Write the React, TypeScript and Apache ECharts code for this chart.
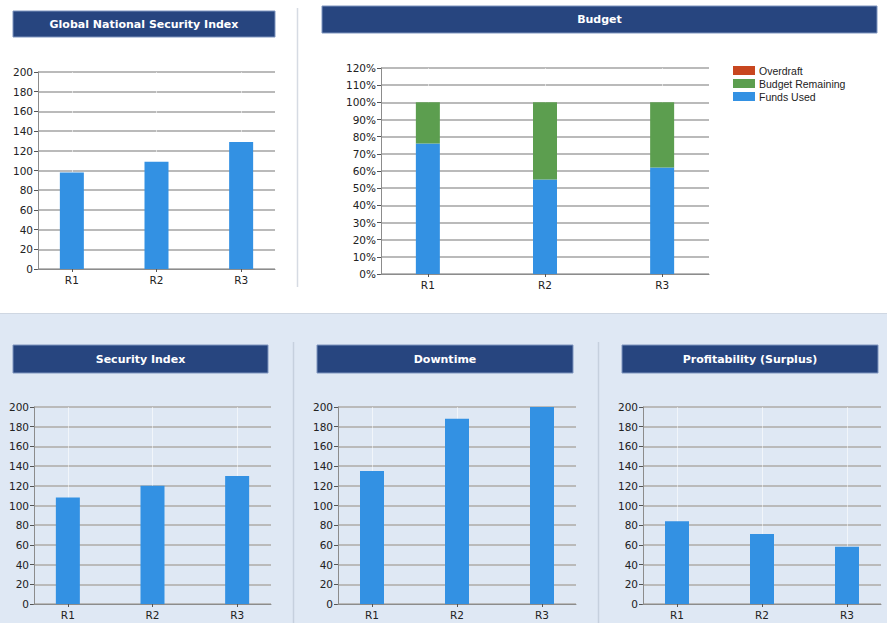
import React, { useEffect, useRef } from "react";
import * as echarts from "echarts";

const categories = ["R1", "R2", "R3"];
const catIndex = [0, 1, 2];
const globalSecurityIndex = [98, 109, 129];
const fundsUsed = [76, 55, 62];
const budgetRemaining = [24, 45, 38];
const overdraft = [0, 0, 0];
const securityIndex = [108, 120, 130];
const downtime = [135, 188, 200];
const profitability = [84, 71, 58];
const legendNames = ["Overdraft", "Budget Remaining", "Funds Used"];

const FONT = "DejaVu Sans";
const BAR_BLUE = "#3391e3";
const TITLE_BG = "#27457f";

const pairs = (vals: number[]) => catIndex.map((x, i) => [x, vals[i]]);
// value first, category position second (so the value dimension is the stacked one)
const stackPairs = (vals: number[]) => catIndex.map((x, i) => [vals[i], x]);

function xAxisFor(gridIndex: number) {
  return {
    type: "value",
    gridIndex,
    min: -0.4,
    max: 2.4,
    z: 1,
    axisLine: { show: true, onZero: false, lineStyle: { color: "#8c8c8c", width: 1 } },
    axisTick: { show: true, customValues: catIndex, length: 3, lineStyle: { color: "#555" } },
    axisLabel: {
      customValues: catIndex,
      formatter: (v: number) => categories[Math.round(v)] ?? "",
      fontFamily: FONT,
      fontSize: 10.5,
      color: "#222",
      margin: 5,
    },
    splitLine: { show: true, lineStyle: { color: "rgba(255,255,255,0.55)", width: 1 } },
  };
}

function yAxisFor(gridIndex: number, max: number, interval: number, pct = false) {
  return {
    type: "value",
    gridIndex,
    min: 0,
    max,
    interval,
    axisLine: { show: true, onZero: false, lineStyle: { color: "#8c8c8c", width: 1 } },
    axisTick: { show: true, length: 4, lineStyle: { color: "#555" } },
    axisLabel: {
      formatter: pct ? "{value}%" : "{value}",
      fontFamily: FONT,
      fontSize: 10.5,
      color: "#222",
      margin: 5,
    },
    splitLine: { show: true, lineStyle: { color: "#bababa", width: 2 } },
  };
}

function titleBox(x: number, y: number, w: number, h: number, text: string) {
  return {
    type: "group",
    children: [
      {
        type: "rect",
        shape: { x, y, width: w, height: h },
        style: { fill: TITLE_BG, stroke: "#7f95bf", lineWidth: 1 },
      },
      {
        type: "text",
        x: x + w / 2,
        y: y + h / 2,
        style: {
          text,
          fill: "#ffffff",
          font: `bold 11px "${FONT}"`,
          align: "center",
          verticalAlign: "middle",
        },
      },
    ],
  };
}

export default function App() {
  const ref = useRef<HTMLDivElement>(null);

  useEffect(() => {
    if (!ref.current) return;
    const chart = echarts.init(ref.current, undefined, { renderer: "svg" });

    const barSeries = (idx: number, data: number[], name: string) => ({
      type: "bar",
      name,
      xAxisIndex: idx,
      yAxisIndex: idx,
      data: pairs(data),
      barWidth: 24,
      itemStyle: { color: BAR_BLUE },
    });

    const budgetSeries = (name: string, data: number[], color: string) => ({
      type: "bar",
      name,
      xAxisIndex: 1,
      yAxisIndex: 1,
      stack: "budget",
      encode: { x: 1, y: 0 },
      data: stackPairs(data),
      barWidth: 24,
      itemStyle: { color },
    });

    chart.setOption({
      animation: false,
      backgroundColor: "transparent",
      graphic: [
        { type: "rect", z: -10, shape: { x: 0, y: 0, width: 887, height: 313 }, style: { fill: "#ffffff" } },
        { type: "rect", z: -10, shape: { x: 0, y: 314, width: 887, height: 309 }, style: { fill: "#dfe8f4" } },
        { type: "line", z: -9, shape: { x1: 0, y1: 313.5, x2: 887, y2: 313.5 }, style: { stroke: "#cfd7e2", lineWidth: 1 } },
        { type: "line", z: -9, shape: { x1: 297.5, y1: 8, x2: 297.5, y2: 287 }, style: { stroke: "#d6dbe3", lineWidth: 1.5 } },
        { type: "line", z: -9, shape: { x1: 293.5, y1: 342, x2: 293.5, y2: 623 }, style: { stroke: "#c6d0de", lineWidth: 1.5 } },
        { type: "line", z: -9, shape: { x1: 598.5, y1: 342, x2: 598.5, y2: 623 }, style: { stroke: "#c6d0de", lineWidth: 1.5 } },
        titleBox(13, 11, 262, 26, "Global National Security Index"),
        titleBox(322, 6, 555, 27, "Budget"),
        titleBox(13, 345, 255, 28, "Security Index"),
        titleBox(317, 345, 256, 28, "Downtime"),
        titleBox(622, 345, 256, 28, "Profitability (Surplus)"),
      ],
      legend: {
        data: legendNames,
        orient: "vertical",
        left: 733,
        top: 65,
        icon: "rect",
        itemWidth: 22,
        itemHeight: 9,
        itemGap: 2,
        padding: 0,
        textStyle: { fontFamily: "Liberation Sans", fontSize: 10.5, color: "#222", padding: [0, 0, 0, -1] },
        selectedMode: false,
      },
      grid: [
        { left: 38, top: 72, width: 237, height: 197 },
        { left: 381, top: 68, width: 328, height: 206 },
        { left: 34, top: 407, width: 237, height: 197 },
        { left: 338, top: 407, width: 238, height: 197 },
        { left: 643, top: 407, width: 238, height: 197 },
      ],
      xAxis: [0, 1, 2, 3, 4].map((i) => xAxisFor(i)),
      yAxis: [
        yAxisFor(0, 200, 20),
        yAxisFor(1, 120, 10, true),
        yAxisFor(2, 200, 20),
        yAxisFor(3, 200, 20),
        yAxisFor(4, 200, 20),
      ],
      series: [
        barSeries(0, globalSecurityIndex, "Global National Security Index"),
        budgetSeries("Funds Used", fundsUsed, BAR_BLUE),
        budgetSeries("Budget Remaining", budgetRemaining, "#5c9e4f"),
        budgetSeries("Overdraft", overdraft, "#c8461f"),
        barSeries(2, securityIndex, "Security Index"),
        barSeries(3, downtime, "Downtime"),
        barSeries(4, profitability, "Profitability (Surplus)"),
      ],
    });

    return () => chart.dispose();
  }, []);

  return (
    <div
      ref={ref}
      style={{ position: "absolute", left: 0, top: 0, width: 887, height: 623 }}
    />
  );
}
